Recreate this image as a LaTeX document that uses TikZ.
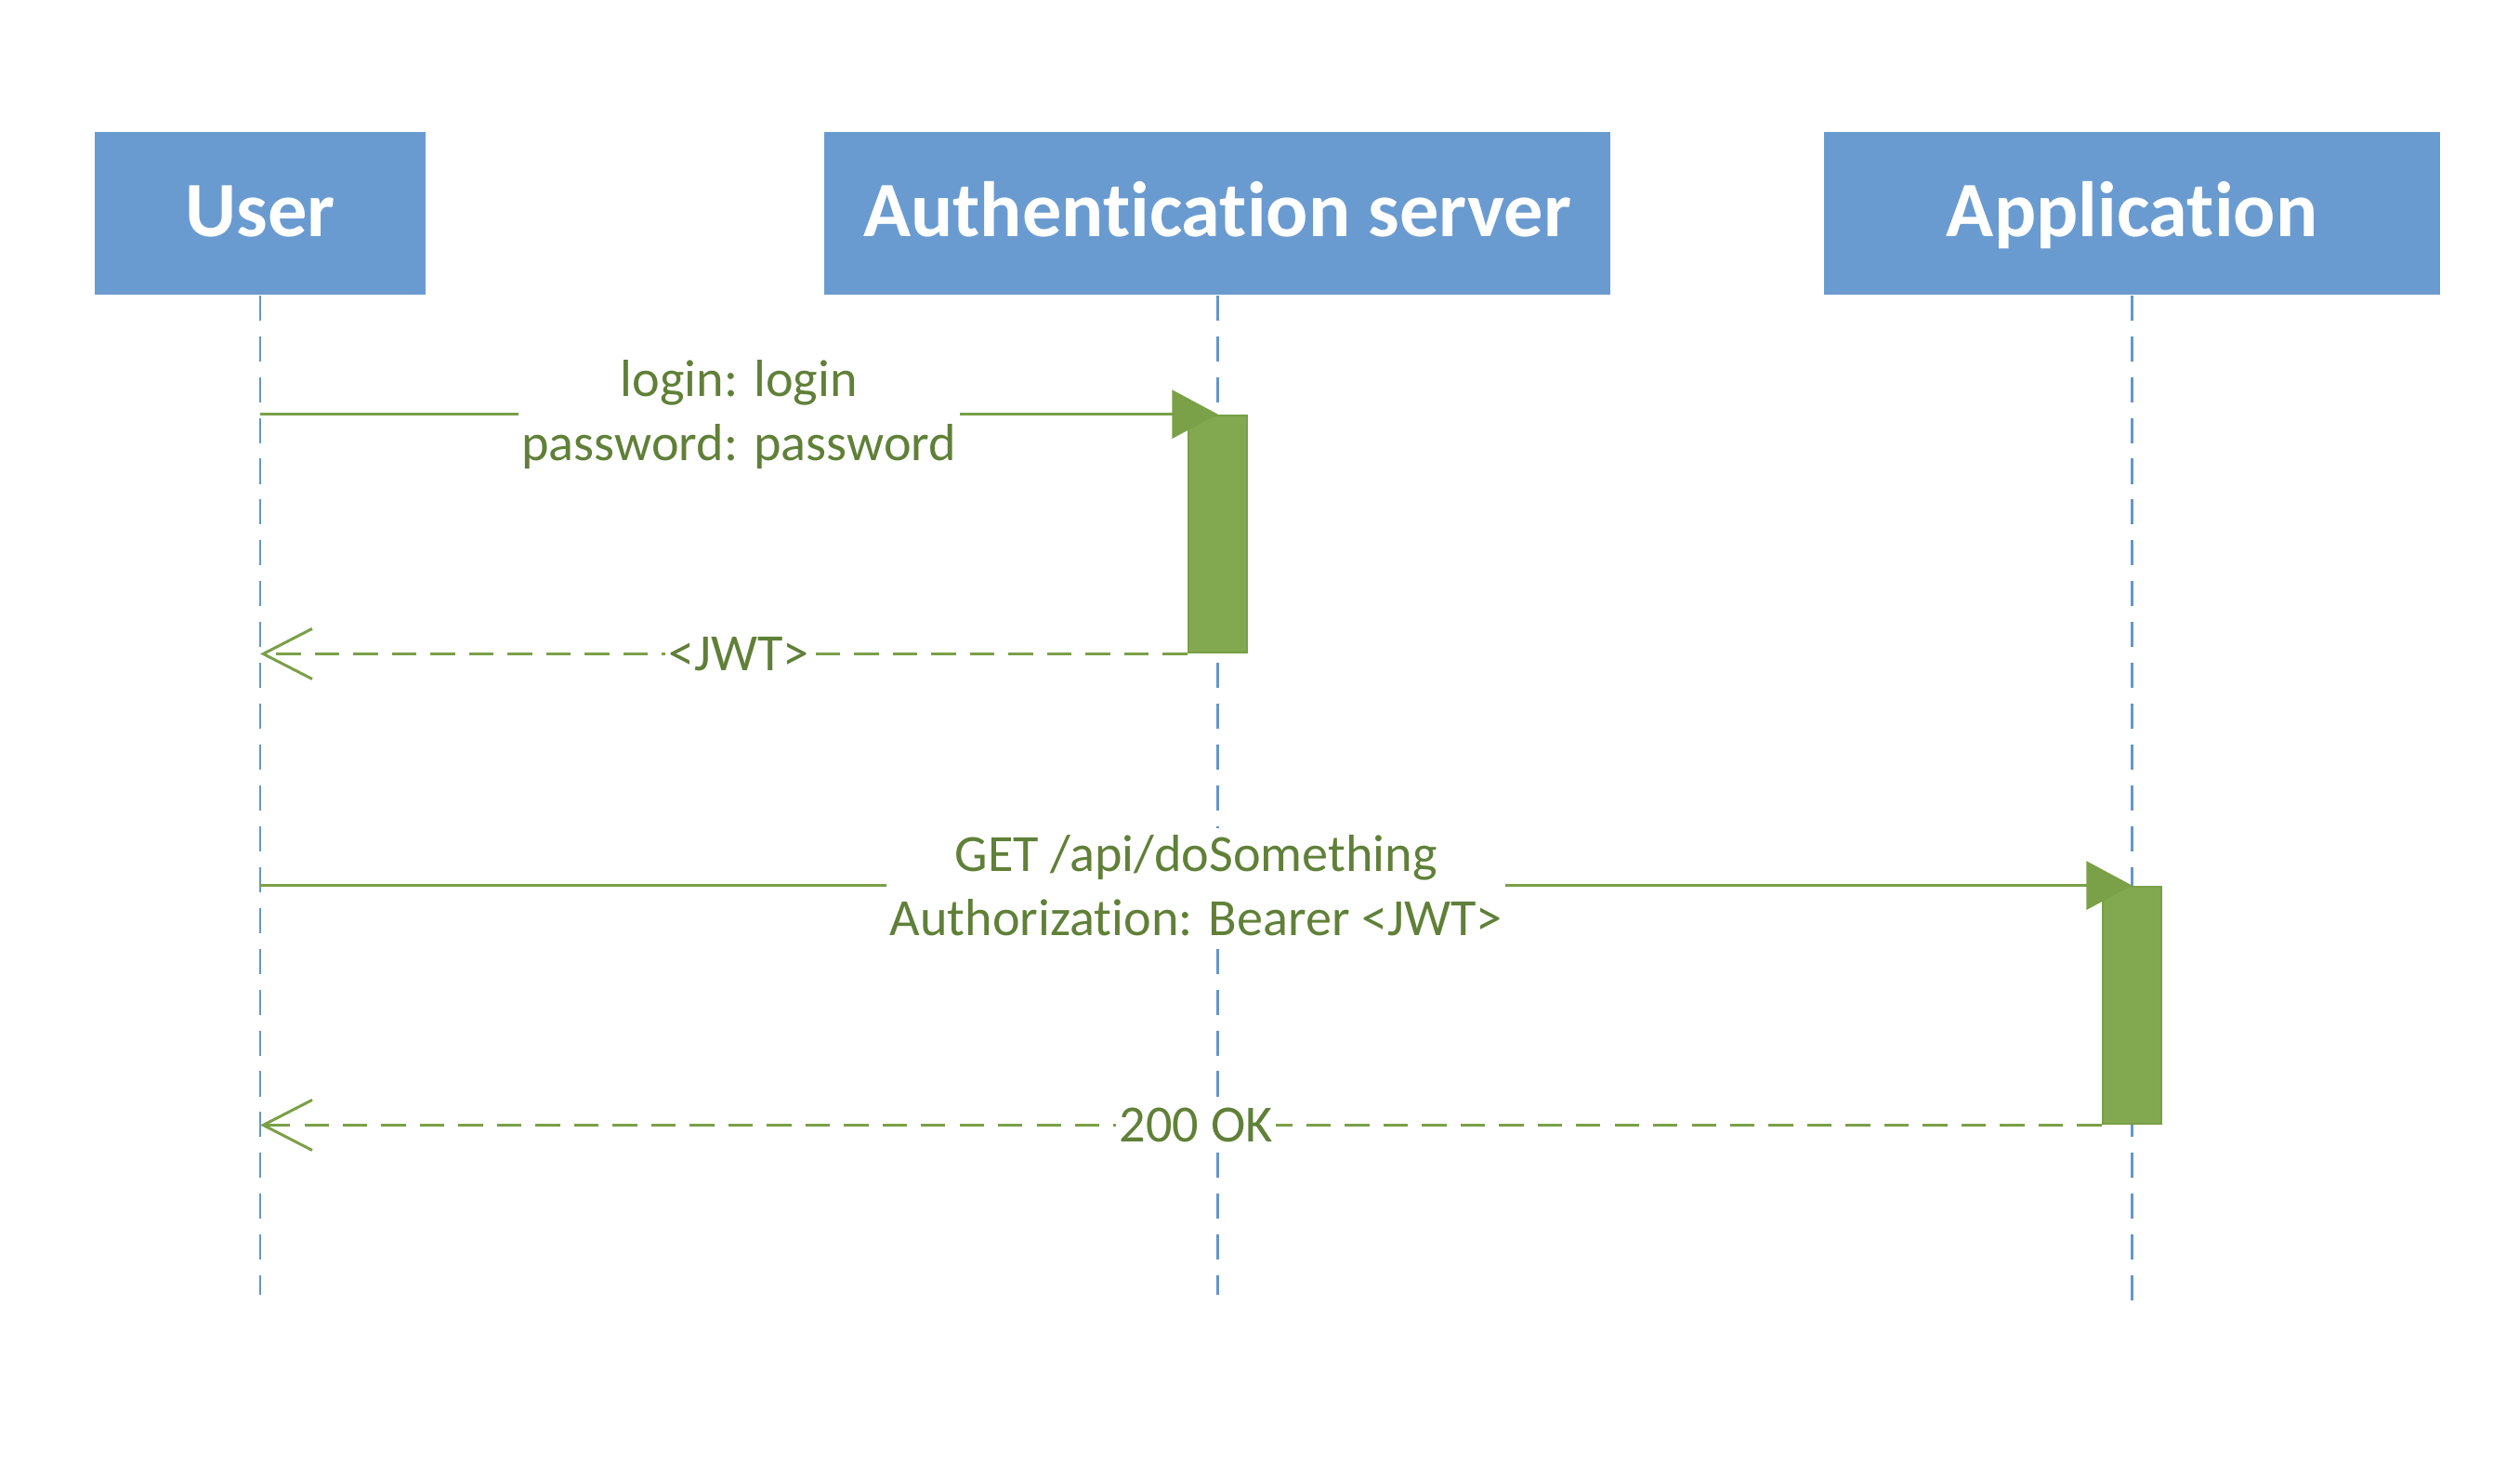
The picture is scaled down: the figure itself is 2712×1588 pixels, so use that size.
\documentclass[tikz,border=0pt]{standalone}
\usepackage{fontspec}
\setmainfont{Carlito}[Ligatures=NoCommon]
\usetikzlibrary{arrows.meta}
\definecolor{hdblue}{RGB}{106,155,208}
\definecolor{linblue}{RGB}{100,150,205}
\definecolor{barfill}{RGB}{130,169,79}
\definecolor{barline}{RGB}{120,160,70}
\definecolor{msgline}{RGB}{122,160,72}
\definecolor{txtgreen}{RGB}{96,128,56}
\tikzset{
  head/.style={fill=hdblue, draw=none, minimum height=1.75cm, inner sep=0pt,
    text height=17pt, text depth=3pt,
    text=white, font=\fontsize{24}{29}\selectfont\bfseries},
  lifeline/.style={draw=linblue, line width=0.85pt, dash pattern=on 7.7pt off 4.8pt},
  actbar/.style={fill=barfill, draw=barline, line width=0.8pt, minimum width=0.63cm,
    minimum height=2.55cm, inner sep=0pt},
  msg/.style={draw=msgline, line width=0.85pt, -{Triangle[length=14pt,width=14.8pt]}},
  ret/.style={draw=msgline, line width=0.85pt, dash pattern=on 7.5pt off 4.3pt,
    -{Straight Barb[length=15pt,width=15.4pt,line width=0.85pt]}},
  lbl/.style={fill=white, text=txtgreen, align=center, inner xsep=1pt, inner ysep=2pt,
    font=\fontsize{16}{19.6}\selectfont}
}
\begin{document}
\begin{tikzpicture}[x=0.1mm, y=-0.1mm]
\useasboundingbox[fill=white] (0,0) rectangle (2712,1588);
% headers
\node[head, minimum width=3.56cm] (user) at (280,229.5) {User};
\node[head, minimum width=8.46cm] (auth) at (1310,229.5) {Authentication server};
\node[head, minimum width=6.63cm] (app) at (2294.5,229.5) {Application};
% lifeline ends
\coordinate (userend) at (280,1393);
\coordinate (authend) at (1310,1393);
\coordinate (append) at (2294.5,1404);
\draw[lifeline] (user.south) -- (userend);
\draw[lifeline] (auth.south) -- (authend);
\draw[lifeline] (app.south) -- (append);
% activation bars
\node[actbar] (bar1) at (1310.5,574.5) {};
\node[actbar] (bar2) at (2294.5,1081.5) {};
% messages
\draw[msg] (user.south |- bar1.north) -- node[lbl] (l1) {login: login\\password: password} (bar1.north);
\draw[ret] (bar1.south west) -- (user.south |- bar1.south);
\path (user.south |- bar1.south) -- node[lbl, inner ysep=0pt] (l2) {<JWT>} (bar1.south);
\draw[msg] (user.south |- bar2.north) -- node[lbl] (l3) {GET /api/doSomething\\Authorization: Bearer <JWT>} (bar2.north);
\draw[ret] (bar2.south west) -- (user.south |- bar2.south);
\path (user.south |- bar2.south) -- node[lbl, inner ysep=0pt] (l4) {200 OK} (bar2.south);
\end{tikzpicture}
\end{document}
